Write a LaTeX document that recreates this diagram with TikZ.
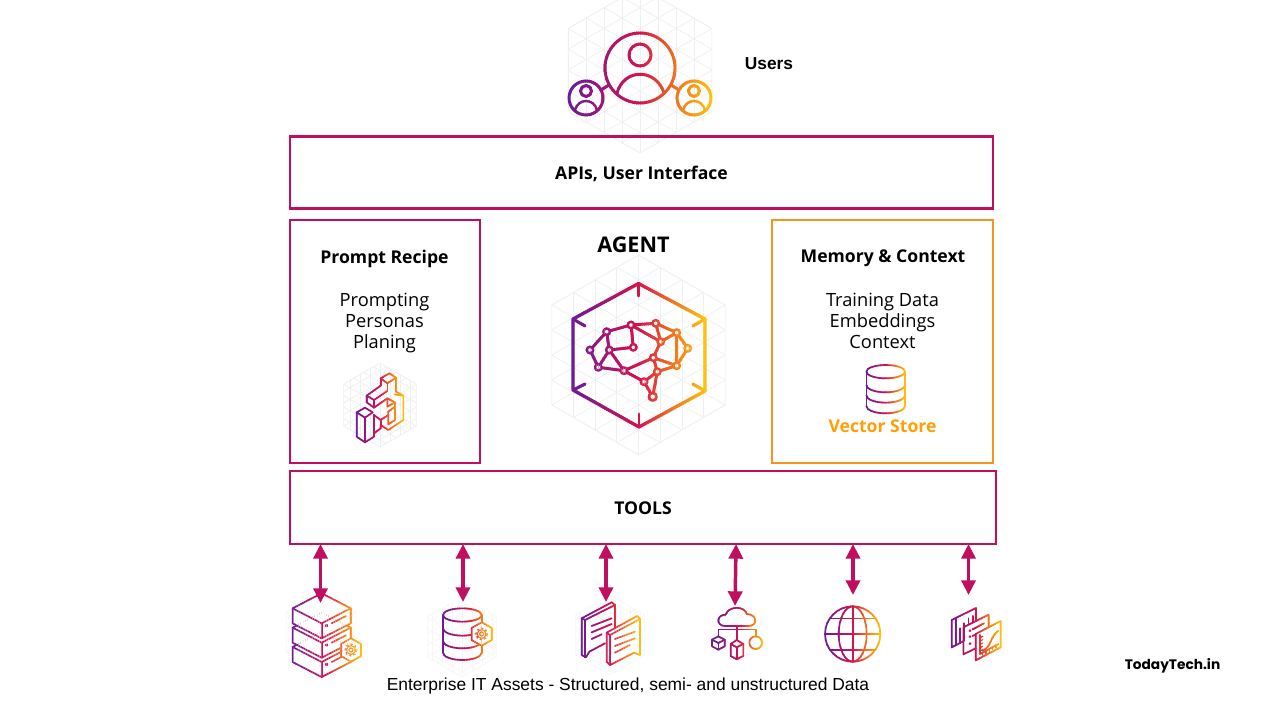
\documentclass[tikz,border=0pt]{standalone}
\usepackage{fontspec}
\setmainfont{Open Sans}
\newfontfamily\lib{Liberation Sans}
\newfontfamily\pop{Poppins}
\usetikzlibrary{arrows.meta}
\definecolor{gA}{HTML}{6A1B9A}
\definecolor{gB}{HTML}{D5124E}
\definecolor{gC}{HTML}{F0731F}
\definecolor{gD}{HTML}{FFC20E}
\definecolor{mag}{HTML}{C00F5E}
\definecolor{org}{HTML}{F7941D}
\definecolor{vec}{HTML}{FF9F0A}
\definecolor{grd}{HTML}{EDF0F0}
\definecolor{grf}{HTML}{F6F7F7}
\colorlet{gc}{gB}
\tikzset{
  box/.style={draw=#1,line width=2.05pt,fill=none,outer sep=0pt,inner sep=0pt,anchor=north west},
  gl/.style={draw=gc,line width=1.25pt,line join=round,line cap=round},
  gm/.style={draw=gc,line width=2.2pt,line join=round,line cap=round},
  z/.style={shift={(#1)},x=.25pt,y=-.25pt},
  bidir/.style={{Triangle[width=10.5pt,length=11pt]}-{Triangle[width=10.5pt,length=11pt]},draw=mag,fill=mag,line width=2.6pt},
  title/.style={font=\bfseries\fontsize{13.2}{15}\selectfont,text=black,inner sep=0pt},
  body/.style={font=\fontsize{13.7}{15.75}\selectfont,text=black,align=center,inner sep=0pt},
}
\newcommand{\gradicon}[4]{%
 \foreach \gi in {1,...,#3}{%
  \pgfmathsetmacro\gt{(\gi-0.5)/#3}%
  \pgfmathsetmacro\ga{#1+(#2-#1)*(\gi-1)/#3-0.3-(\gi==1?6:0)}%
  \pgfmathsetmacro\gb{#1+(#2-#1)*\gi/#3+0.3+(\gi==#3?6:0)}%
  \ifdim\gt pt<0.5pt
    \pgfmathsetmacro\gp{\gt/0.5*100}\colorlet{gc}{gB!\gp!gA}%
  \else\ifdim\gt pt<0.75pt
    \pgfmathsetmacro\gp{(\gt-0.5)/0.25*100}\colorlet{gc}{gC!\gp!gB}%
  \else
    \pgfmathsetmacro\gp{(\gt-0.75)/0.25*100}\colorlet{gc}{gD!\gp!gC}%
  \fi\fi
  \begin{scope}
   \clip (\ga,-20) rectangle (\gb,740);
   #4
  \end{scope}
 }}
\newcommand{\hexgrid}[5]{%
 \begin{scope}
  \pgfmathsetmacro\hw{.866*#3}\pgfmathsetmacro\hh{.5*#3}\pgfmathsetmacro\ha{#4/.866}
  \def\hexp{({#1},{#2-#3}) -- ({#1+\hw},{#2-\hh}) -- ({#1+\hw},{#2+\hh}) -- ({#1},{#2+#3}) -- ({#1-\hw},{#2+\hh}) -- ({#1-\hw},{#2-\hh}) -- cycle}
  \draw[#5,line width=.5pt] \hexp;
  \clip \hexp;
  \foreach \hk in {-5,...,5}{
    \draw[#5,line width=.5pt] ({#1+\hk*#4},{#2-#3-2}) -- ({#1+\hk*#4},{#2+#3+2});
  }
  \foreach \hk in {-9,...,9}{
    \draw[#5,line width=.5pt] ({#1-#3},{#2+\hk*\ha-.577*#3}) -- ({#1+#3},{#2+\hk*\ha+.577*#3});
    \draw[#5,line width=.5pt] ({#1-#3},{#2+\hk*\ha+.577*#3}) -- ({#1+#3},{#2+\hk*\ha-.577*#3});
  }
 \end{scope}}
\newcommand{\geartoken}[2]{%
  \draw[gl,fill=white] (#1,#2-35) -- (#1+30,#2-18) -- (#1+30,#2+18) -- (#1,#2+35) -- (#1-30,#2+18) -- (#1-30,#2-18) -- cycle;
  \draw[gl,line width=.9pt] (#1,#2) circle (6);
  \draw[draw=gc,line width=.8pt] (#1,#2) circle (13);
  \draw[draw=gc,line width=1.2pt,dash pattern=on 1.6pt off 1.6pt] (#1,#2) circle (17);
}
\begin{document}
\begin{tikzpicture}[x=.75pt,y=-.75pt]
\useasboundingbox (0,0) rectangle (1280,720);
\fill[white] (0,0) rectangle (1280,720);
\clip (0,0) rectangle (1280,720);
% faint grids
\hexgrid{640}{70}{83}{18}{grd}
\hexgrid{638.5}{355}{100}{21.7}{grd}
\hexgrid{380}{405}{42}{10}{grd}
\hexgrid{321}{632}{40}{10}{grf}
\hexgrid{462}{637}{40}{10}{grf}
\hexgrid{610}{635}{40}{10}{grf}
% boxes
\node[box=mag,minimum width=527.25pt,minimum height=54pt] (api) at (290,136.7) {};
\node[box=mag,minimum width=142.5pt,minimum height=182.25pt] (prompt) at (290,220) {};
\node[box=org,minimum width=165.75pt,minimum height=182.25pt] (memory) at (772,220) {};
\node[box=mag,minimum width=529.5pt,minimum height=54.75pt] (tools) at (290,471) {};
% texts
\node[title] (tapi) at (641.5,174) {APIs, User Interface};
\node[title] (ttools) at (643,508) {TOOLS};
\node[title] (tprompt) at (384.5,258.5) {Prompt Recipe};
\node[title] (tmem) at (883,258.5) {Memory \& Context};
\node[body] (bprompt) at (384.5,322.5) {Prompting\\Personas\\Planing};
\node[body] (bmem) at (882.5,320.5) {Training Data\\Embeddings\\Context};
\node[title,font=\bfseries\fontsize{16.2}{18}\selectfont] (tagent) at (633.5,245) {AGENT};
\node[title,text=vec] (tvec) at (882.5,426) {Vector Store};
\node[inner sep=0pt,font=\lib\bfseries\fontsize{13}{15}\selectfont] (tusers) at (769,63.5) {Users};
\node[inner sep=0pt,font=\lib\fontsize{13.07}{15}\selectfont] (tent) at (628,686) {Enterprise IT Assets - Structured, semi- and unstructured Data};
\node[inner sep=0pt,font=\pop\bfseries\fontsize{10.3}{13}\selectfont] (ttt) at (1172.5,666) {TodayTech.in};
% users icon
\gradicon{569}{712}{70}{
 \draw[gm] (640,68) circle (35);
 \draw[gm] (640,55) circle (11);
 \draw[gm] (617,93) .. controls (624,68) and (656,68) .. (664,93);
 \draw[gm] (586,98) circle (17);
 \draw[gm] (586,91) circle (5.5);
 \draw[gm,line width=1.7pt] (575,110) .. controls (578,98) and (594,98) .. (597,110);
 \draw[gm] (694,98) circle (17);
 \draw[gm] (694,91) circle (5.5);
 \draw[gm,line width=1.7pt] (683,110) .. controls (686,98) and (702,98) .. (705,110);
 \draw[gm] (601,90) -- (609,85);
 \draw[gm] (671,85) -- (679,90);
}
% agent icon
\gradicon{572}{706}{70}{
 \draw[gm,line width=2.4pt] (638.5,283.5) -- (705,319) -- (705,391) -- (639,427) -- (573,390) -- (573,319) -- cycle;
 \draw[gm] (638.5,283.5) -- (638.5,296);
 \draw[gm] (639,427) -- (639,414);
 \draw[gm] (573,319) -- (585,326);
 \draw[gm] (573,390) -- (585,384);
 \draw[gm] (705,319) -- (693,326);
 \draw[gm] (705,391) -- (693,384);
 \draw[gm] (590,350) -- (606.7,331.7) -- (631,325) -- (655.7,323.3) -- (676.7,332.7) -- (687.7,348.3) -- (676.7,365.7) -- (653.3,357.7) -- (660.7,341.7) -- (655.7,323.3);
 \draw[gm] (590,350) -- (598.3,367.3) -- (624,370.7) -- (653.3,357.7) -- (657.3,371.7) -- (676.7,365.7) -- (676.7,332.7) -- (660.7,341.7) -- (631,325) -- (633.3,347.3) -- (609.3,350) -- (606.7,331.7);
 \draw[gm] (609.3,350) -- (598.3,367.3);
 \draw[gm] (609.3,350) -- (624,370.7) -- (644,381.7) -- (657.3,371.7) -- (652.7,396.7) -- (644,381.7);
 \foreach \bx/\by in {590/350,606.7/331.7,631/325,655.7/323.3,676.7/332.7,687.7/348.3,676.7/365.7,660.7/341.7,633.3/347.3,609.3/350,598.3/367.3,624/370.7,653.3/357.7,657.3/371.7,644/381.7}{
  \draw[gl,line width=1.8pt,fill=white] (\bx,\by) circle (3.2);
 }
 \draw[gl,line width=2pt,fill=white] (652.7,396.7) circle (3.8);
}
% prompt icon
\gradicon{356}{404}{30}{
 \begin{scope}[z={350,365}]
  \draw[gl] (92,40) -- (118,25) -- (138,38) -- (112,55) -- cycle;
  \draw[gl] (92,40) -- (92,62);
  \draw[gl] (112,55) -- (112,78);
  \draw[gl] (138,38) -- (138,80) -- (160,92) -- (160,165) -- (115,195) -- (92,180) -- (92,190) -- (72,205);
  \draw[gl] (50,92) -- (92,62);
  \draw[gl] (50,92) -- (72,105) -- (112,78);
  \draw[gl] (50,92) -- (50,112) -- (72,128) -- (72,105);
  \draw[gl] (72,128) -- (112,100) -- (135,112) -- (135,165) -- (115,178) -- (115,140);
  \draw[gl] (112,100) -- (112,125) -- (135,112);
  \draw[gl] (115,140) -- (135,125);
  \draw[gl] (135,88) -- (160,92);
  \draw[gl] (72,150) -- (92,165) -- (115,150);
  \draw[gl] (72,150) -- (72,215);
  \draw[gl] (92,165) -- (92,180);
  \draw[gl] (20,142) -- (45,128) -- (68,142) -- (45,158) -- cycle;
  \draw[gl] (20,142) -- (20,215) -- (45,232) -- (45,158);
  \draw[gl] (45,232) -- (72,215);
 \end{scope}
}
% vector store
\gradicon{866}{906}{25}{
 \begin{scope}[z={820,355}]
  \draw[gl] (197,50) ellipse (58 and 20);
  \draw[gl] (139,50) -- (139,153);
  \draw[gl] (255,50) -- (255,153);
  \draw[gl] (139,90) arc (180:0:58 and 22);
  \draw[gl] (139,121) arc (180:0:58 and 22);
  \draw[gl] (139,153) arc (180:0:58 and 22);
 \end{scope}
}
% bottom icons
\coordinate (a1) at (320.5,603);
\coordinate (a2) at (463,602);
\coordinate (a3) at (606,602);
\coordinate (a4) at (735,606);
\coordinate (a5) at (853,595);
\coordinate (a6) at (968.5,595);
\gradicon{292}{362}{40}{
 \begin{scope}[z={280,540}]
  \foreach \so in {116,58,0}{
   \begin{scope}[yshift={-\so*.25pt}]
    \draw[gl,fill=white] (38,205) -- (125,160) -- (212,205) -- (212,250) -- (125,295) -- (38,250) -- cycle;
    \draw[gl] (38,205) -- (125,250) -- (212,205);
    \draw[gl] (125,250) -- (125,295);
    \draw[gl,line width=1.4pt] (140,257) circle (2.5);
    \draw[gl] (155,250) -- (198,228);
   \end{scope}
  }
  \geartoken{213}{330}
 \end{scope}
}
\gradicon{442}{494}{30}{
 \begin{scope}[z={280,540}]
  \draw[gl] (547,225) ellipse (58 and 20);
  \draw[gl] (489,225) -- (489,338);
  \draw[gl] (605,225) -- (605,338);
  \draw[gl] (489,265) arc (180:0:58 and 22);
  \draw[gl] (489,303) arc (180:0:58 and 22);
  \draw[gl] (489,338) arc (180:0:58 and 22);
  \geartoken{605}{282}
 \end{scope}
}
\gradicon{581}{641}{35}{
 \begin{scope}[z={560,540}]
  \draw[gl] (65,235) -- (155,187) -- (165,195) -- (165,272);
  \draw[gl] (65,235) -- (65,345) -- (78,352) -- (88,335) -- (135,310);
  \draw[gl] (65,235) -- (75,240) -- (165,195);
  \draw[gl] (75,240) -- (75,352);
  \draw[gl] (95,258) -- (155,235);
  \draw[gl] (95,277) -- (155,252);
  \draw[gl] (95,297) -- (125,283);
  \draw[gl,fill=white] (140,278) -- (232,228) -- (240,237) -- (240,345) -- (222,338) -- (150,375) -- (140,365) -- cycle;
  \draw[gl] (140,278) -- (150,285) -- (240,237);
  \draw[gl] (150,285) -- (150,375);
  \draw[gl] (165,297) -- (225,275);
  \draw[gl] (165,318) -- (225,295);
  \draw[gl] (165,338) -- (210,315);
 \end{scope}
}
\gradicon{716}{764}{30}{
 \begin{scope}[z={560,540}]
  \draw[gl] (495,258) .. controls (468,258) and (468,224) .. (497,224) .. controls (505,197) and (555,197) .. (560,222) .. controls (592,222) and (595,258) .. (565,258) -- cycle;
  \draw[gl] (475,290) -- (475,268) -- (587,268) -- (587,290);
  \draw[gl] (530,258) -- (530,300);
  \draw[gl] (475,289) -- (494,299) -- (494,319) -- (475,329) -- (456,319) -- (456,299) -- cycle;
  \draw[gl] (456,299) -- (475,309) -- (494,299);
  \draw[gl] (475,309) -- (475,329);
  \draw[gl] (587,308) circle (19);
  \draw[gl] (512,312) -- (530,300) -- (550,312) -- (550,348) -- (530,358) -- (512,348) -- cycle;
  \draw[gl] (512,312) -- (530,322) -- (550,312);
  \draw[gl] (530,322) -- (530,358);
 \end{scope}
}
\gradicon{825}{881}{35}{
 \begin{scope}[z={800,540}]
  \draw[gl] (158,282) circle (83);
  \draw[gl] (158,282) ellipse (42 and 83);
  \draw[gl] (158,199) -- (158,365);
  \draw[gl] (75,282) -- (241,282);
  \draw[gl] (91,235) -- (225,235);
  \draw[gl] (91,330) -- (225,330);
 \end{scope}
}
\gradicon{950}{1002}{30}{
 \begin{scope}[z={800,540}]
  \draw[gl] (490,304) -- (455,322) -- (455,240) -- (528,204) -- (528,243);
  \draw[gl] (468,314) -- (468,236);
  \draw[gl] (480,308) -- (480,265);
  \draw[gl] (492,302) -- (492,250);
  \draw[gl] (505,252) -- (505,235);
  \draw[gl] (518,245) -- (518,228);
  \draw[gl] (527,325) -- (490,343) -- (490,262) -- (566,224) -- (566,262);
  \draw[gl,line width=1.5pt] (510,272) circle (1);
  \draw[gl,line width=1.5pt] (510,290) circle (1);
  \draw[gl,line width=1.5pt] (510,311) circle (1);
  \draw[gl] (518,268) -- (552,250);
  \draw[gl] (518,288) -- (527,283);
  \draw[gl] (527,282) -- (602,243) -- (602,322) -- (527,361) -- cycle;
  \draw[gl] (540,285) -- (540,342) -- (595,312);
  \draw[gl] (548,332) .. controls (575,320) and (570,290) .. (595,272);
  \foreach \tk in {548,558,568,578,588}{
    \draw[gl,line width=.8pt] (\tk,{342-(\tk-540)*.55}) -- (\tk,{350-(\tk-540)*.55});
    \draw[gl,line width=.8pt] (540,{285+(\tk-540)}) -- (548,{281+(\tk-540)});
  }
 \end{scope}
}
% arrows
\draw[bidir] (tools.south -| a1) -- (a1);
\draw[bidir] (tools.south -| a2) -- (a2);
\draw[bidir] (tools.south -| a3) -- (a3);
\draw[bidir] ([xshift=.8pt]tools.south -| a4) -- (a4);
\draw[bidir] (tools.south -| a5) -- (a5);
\draw[bidir] (tools.south -| a6) -- (a6);
\end{tikzpicture}
\end{document}
